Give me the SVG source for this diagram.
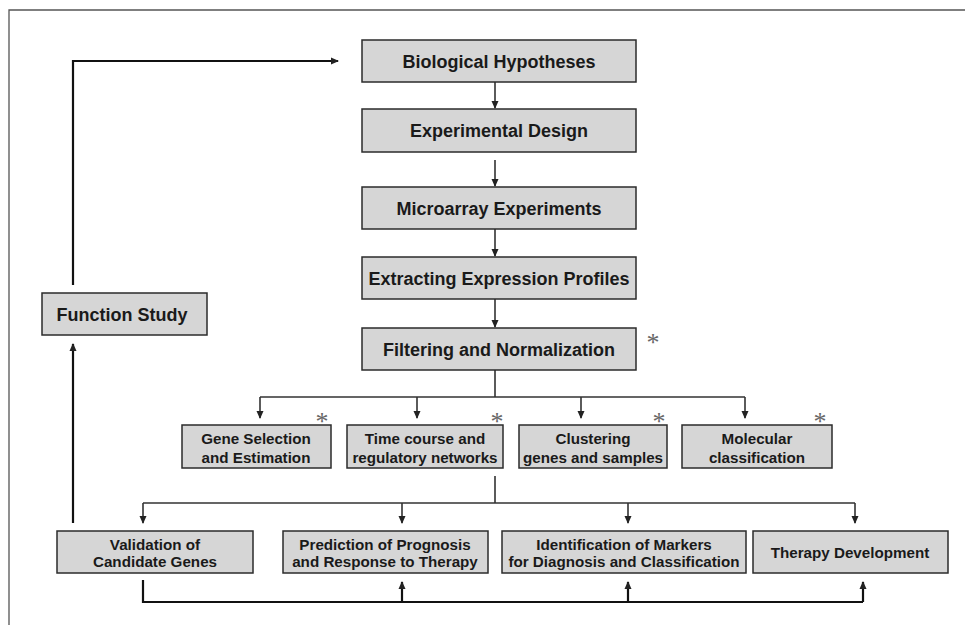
<svg xmlns="http://www.w3.org/2000/svg" width="965" height="625" viewBox="0 0 965 625">
<style>
.box{fill:#d6d6d6;stroke:#2b2b2b;stroke-width:1.5}
.t{font-family:"Liberation Sans",Arial,sans-serif;font-weight:bold;fill:#1a1a1a;text-anchor:middle}
.big{font-size:18px}
.sm{font-size:15.2px}
.ln{fill:none;stroke:#333;stroke-width:1.6}
.thk{fill:none;stroke:#111;stroke-width:2.2}
.ast{font-family:"Liberation Serif","Times New Roman",serif;font-size:26px;fill:#666;text-anchor:middle}
</style>
<defs>
<marker id="ah" viewBox="0 0 8 8" refX="7" refY="4" markerWidth="8" markerHeight="8" markerUnits="userSpaceOnUse" orient="auto">
<path d="M0,0.5 L8,4 L0,7.5 Z" fill="#222"/>
</marker>
</defs>
<rect x="0" y="0" width="965" height="625" fill="#fff"/>
<path d="M9,630 V10 H970" fill="none" stroke="#555" stroke-width="1.3"/>

<g id="connectors">
<line class="ln" x1="495" y1="82" x2="495" y2="108" marker-end="url(#ah)"/>
<line class="ln" x1="495" y1="160" x2="495" y2="186" marker-end="url(#ah)"/>
<line class="ln" x1="495" y1="229" x2="495" y2="256" marker-end="url(#ah)"/>
<line class="ln" x1="495" y1="299" x2="495" y2="327" marker-end="url(#ah)"/>
<path class="ln" d="M495,370 V397 M260,397 H745"/>
<line class="ln" x1="260" y1="397" x2="260" y2="418" marker-end="url(#ah)"/>
<line class="ln" x1="417" y1="397" x2="417" y2="418" marker-end="url(#ah)"/>
<line class="ln" x1="581" y1="397" x2="581" y2="418" marker-end="url(#ah)"/>
<line class="ln" x1="745" y1="397" x2="745" y2="418" marker-end="url(#ah)"/>
<path class="ln" d="M495,476 V503 M143,503 H855"/>
<line class="ln" x1="143" y1="503" x2="143" y2="523" marker-end="url(#ah)"/>
<line class="ln" x1="402" y1="503" x2="402" y2="523" marker-end="url(#ah)"/>
<line class="ln" x1="628" y1="503" x2="628" y2="523" marker-end="url(#ah)"/>
<line class="ln" x1="855" y1="503" x2="855" y2="523" marker-end="url(#ah)"/>
<path class="thk" d="M143,580 V602 H863"/>
<line class="thk" x1="402" y1="602" x2="402" y2="582" marker-end="url(#ah)"/>
<line class="thk" x1="628" y1="602" x2="628" y2="582" marker-end="url(#ah)"/>
<line class="thk" x1="863" y1="602" x2="863" y2="582" marker-end="url(#ah)"/>
<line class="thk" x1="73" y1="523" x2="73" y2="344" marker-end="url(#ah)"/>
<path class="thk" d="M73,285 V61 H338" marker-end="url(#ah)"/>
</g>

<g id="n-bio"><rect class="box" x="362" y="40" width="274" height="42"/><text class="t big" x="499" y="67.5">Biological Hypotheses</text></g>
<g id="n-exp"><rect class="box" x="362" y="109" width="274" height="43"/><text class="t big" x="499" y="137">Experimental Design</text></g>
<g id="n-micro"><rect class="box" x="362" y="187" width="274" height="42"/><text class="t big" x="499" y="214.5">Microarray Experiments</text></g>
<g id="n-extract"><rect class="box" x="362" y="257" width="274" height="42"/><text class="t big" x="499" y="285">Extracting Expression Profiles</text></g>
<g id="n-filter"><rect class="box" x="362" y="328" width="274" height="42"/><text class="t big" x="499" y="355.5">Filtering and Normalization</text><text class="ast" x="653" y="351">*</text></g>
<g id="n-func"><rect class="box" x="42" y="293" width="165" height="42"/><text class="t big" x="122" y="320.5">Function Study</text></g>

<g id="n-gene"><rect class="box" x="182" y="425" width="149" height="43"/><text class="t sm" x="256" y="443.5">Gene Selection</text><text class="t sm" x="256" y="462.5">and Estimation</text><text class="ast" x="322" y="430">*</text></g>
<g id="n-time"><rect class="box" x="347" y="425" width="156" height="43"/><text class="t sm" x="425" y="443.5">Time course and</text><text class="t sm" x="425" y="462.5">regulatory networks</text><text class="ast" x="497" y="430">*</text></g>
<g id="n-clust"><rect class="box" x="519" y="425" width="148" height="43"/><text class="t sm" x="593" y="443.5">Clustering</text><text class="t sm" x="593" y="462.5">genes and samples</text><text class="ast" x="659" y="430">*</text></g>
<g id="n-mol"><rect class="box" x="682" y="425" width="150" height="43"/><text class="t sm" x="757" y="443.5">Molecular</text><text class="t sm" x="757" y="462.5">classification</text><text class="ast" x="820" y="430">*</text></g>

<g id="n-valid"><rect class="box" x="57" y="531" width="196" height="42"/><text class="t sm" x="155" y="549.5">Validation of</text><text class="t sm" x="155" y="566.5">Candidate Genes</text></g>
<g id="n-pred"><rect class="box" x="283" y="531" width="205" height="42"/><text class="t sm" x="385" y="549.5">Prediction of Prognosis</text><text class="t sm" x="385" y="566.5">and Response to Therapy</text></g>
<g id="n-ident"><rect class="box" x="502" y="531" width="244" height="42"/><text class="t sm" x="624" y="549.5">Identification of Markers</text><text class="t sm" x="624" y="566.5">for Diagnosis and Classification</text></g>
<g id="n-ther"><rect class="box" x="753" y="531" width="195" height="42"/><text class="t sm" x="850" y="557.5">Therapy Development</text></g>
</svg>
